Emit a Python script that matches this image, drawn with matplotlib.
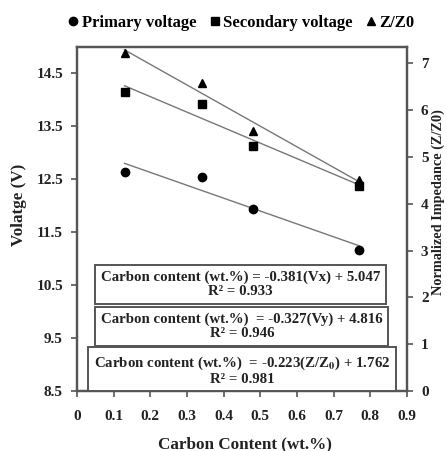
import matplotlib
matplotlib.use('Agg')
import matplotlib.pyplot as plt
from matplotlib.lines import Line2D
import numpy as np

carbon = [0.13, 0.34, 0.48, 0.77]
primary_v = [12.64, 12.54, 11.93, 11.17]
secondary_v = [14.14, 13.92, 13.12, 12.37]
z_ratio = [7.23, 6.57, 5.56, 4.50]

box_texts = [
    'Carbon content (wt.%) = -0.381(Vx) + 5.047\nR\u00b2 = 0.933',
    'Carbon content (wt.%)  = -0.327(Vy) + 4.816\nR\u00b2 = 0.946',
    'Carbon content (wt.%)  = -0.223(Z/Z$_{\\mathbf{0}}$) + 1.762\nR\u00b2 = 0.981',
]

FONT = 'Liberation Serif'
FRAME = '#555555'
TXT = '#222222'

plt.rcParams['font.family'] = FONT
plt.rcParams['font.weight'] = 'bold'
plt.rcParams['mathtext.fontset'] = 'stix'


def trend(ax, x, y):
    k, b = np.polyfit(x, y, 1)
    xs = np.array([min(x), max(x)])
    ax.plot(xs, k * xs + b, color='#777777', linewidth=1.0, zorder=2)


def main():
    fig = plt.figure(figsize=(4.47, 4.51), dpi=100)
    ax = fig.add_axes([0.172, 0.133, 0.7385, 0.763])
    ax2 = ax.twinx()

    ax.plot(carbon, primary_v, 'o', color='black', markersize=6, zorder=3)
    ax.plot(carbon, secondary_v, 's', color='black', markersize=6, zorder=3)
    ax2.plot(carbon, z_ratio, '^', color='black', markersize=6, zorder=3)
    trend(ax, carbon, primary_v)
    trend(ax, carbon, secondary_v)
    trend(ax2, carbon, z_ratio)

    ax.set_xlim(0, 0.9)
    ax.set_ylim(8.5, 15.0)
    ax2.set_ylim(0, 7.35)
    ax.set_xticks(np.arange(0, 0.91, 0.1))
    ax.set_xticklabels(['0'] + [f'{v:.1f}' for v in np.arange(0.1, 0.91, 0.1)])
    ax.set_yticks(np.arange(8.5, 14.6, 1.0))
    ax2.set_yticks(range(0, 8))

    for a in (ax, ax2):
        for s in a.spines.values():
            s.set_color(FRAME)
            s.set_linewidth(1.6)
        a.tick_params(direction='out', length=4, width=1.2, color=FRAME,
                      labelsize=11, labelcolor=TXT, pad=6)
    ax.tick_params(axis='x', pad=10)

    ax.set_xlabel('Carbon Content (wt.%)', fontsize=12.3, fontweight='bold', color=TXT)
    ax.xaxis.set_label_coords(0.51, -0.132)
    ax.set_ylabel('Volatge (V)', fontsize=12.3, fontweight='bold', color=TXT)
    ax.yaxis.set_label_coords(-0.15, 0.54)
    ax2.set_ylabel('Normalized Impedance (Z/Z0)', fontsize=10.3, fontweight='bold', color=TXT)
    ax2.yaxis.set_label_coords(1.074, 0.55)

    centers = [(0.495, 0.31), (0.5, 0.1875), (0.5, 0.061)]
    for (cx, cy), t in zip(centers, box_texts):
        ax2.text(cx, cy, t, transform=ax.transAxes, ha='center', va='center',
                 fontsize=10.7, color=TXT, linespacing=1.1, zorder=5,
                 bbox=dict(boxstyle='square,pad=0.38', facecolor='white',
                           edgecolor=FRAME, linewidth=1.4))

    handles = [
        Line2D([], [], marker='o', linestyle='none', color='black', markersize=6),
        Line2D([], [], marker='s', linestyle='none', color='black', markersize=6),
        Line2D([], [], marker='^', linestyle='none', color='black', markersize=6),
    ]
    fig.legend(handles, ['Primary voltage', 'Secondary voltage', 'Z/Z0'],
               loc='center', bbox_to_anchor=(0.54, 0.95), ncol=3, frameon=False,
               handlelength=0.6, handletextpad=0.2, columnspacing=0.8,
               prop={'family': FONT, 'weight': 'bold', 'size': 12})

    fig.savefig('out.png', dpi=100)


if __name__ == '__main__':
    main()
